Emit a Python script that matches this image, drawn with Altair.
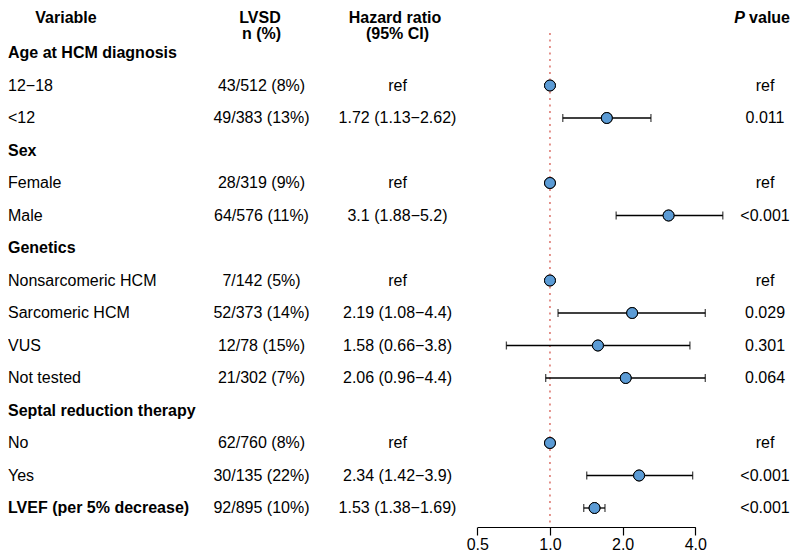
import altair as alt
import pandas as pd

# ---- data ----
labels = ["Age at HCM diagnosis", "12\u221218", "<12", "Sex", "Female", "Male",
          "Genetics", "Nonsarcomeric HCM", "Sarcomeric HCM", "VUS", "Not tested",
          "Septal reduction therapy", "No", "Yes", "LVEF (per 5% decrease)"]
bold = [True, False, False, True, False, False, True, False, False, False, False,
        True, False, False, True]
lvsd = ["", "43/512 (8%)", "49/383 (13%)", "", "28/319 (9%)", "64/576 (11%)",
        "", "7/142 (5%)", "52/373 (14%)", "12/78 (15%)", "21/302 (7%)",
        "", "62/760 (8%)", "30/135 (22%)", "92/895 (10%)"]
hr_text = ["", "ref", "1.72 (1.13\u22122.62)", "", "ref", "3.1 (1.88\u22125.2)",
           "", "ref", "2.19 (1.08\u22124.4)", "1.58 (0.66\u22123.8)", "2.06 (0.96\u22124.4)",
           "", "ref", "2.34 (1.42\u22123.9)", "1.53 (1.38\u22121.69)"]
p_text = ["", "ref", "0.011", "", "ref", "<0.001", "", "ref", "0.029", "0.301",
          "0.064", "", "ref", "<0.001", "<0.001"]
hr = [None, 1.0, 1.72, None, 1.0, 3.1, None, 1.0, 2.19, 1.58, 2.06, None, 1.0, 2.34, 1.53]
lo = [None, None, 1.13, None, None, 1.88, None, None, 1.08, 0.66, 0.96, None, None, 1.42, 1.38]
hi = [None, None, 2.62, None, None, 5.2, None, None, 4.4, 3.8, 4.4, None, None, 3.9, 1.69]
tick_values = [0.5, 1.0, 2.0, 4.0]

df = pd.DataFrame({
    "row": list(range(len(labels))),
    "label": labels, "bold": bold, "lvsd": lvsd, "hrt": hr_text, "p": p_text,
    "hr": hr, "lo": lo, "hi": hi,
})

FONT = "Liberation Sans"
FS = 16
BLUE = "#5B9BD5"
RED = "#DE7A72"
H = 519

yenc = alt.Y("row:Q", scale=alt.Scale(domain=[0, 14], range=[45, 500], nice=False, zero=False),
             axis=None)
xscale = alt.Scale(type="log", domain=[0.5, 4], range=[469.3, 687.3], nice=False)

base = alt.Chart(df)

txt = dict(font=FONT, fontSize=FS, color="black", baseline="middle")

lab_bold = base.transform_filter("datum.bold").mark_text(align="left", fontWeight="bold", **txt).encode(
    x=alt.value(0), y=yenc, text="label:N")
lab_reg = base.transform_filter("!datum.bold").mark_text(align="left", **txt).encode(
    x=alt.value(0), y=yenc, text="label:N")
col_lvsd = base.mark_text(align="center", **txt).encode(x=alt.value(253.5), y=yenc, text="lvsd:N")
col_hr = base.mark_text(align="center", **txt).encode(x=alt.value(389.5), y=yenc, text="hrt:N")
col_p = base.mark_text(align="center", **txt).encode(x=alt.value(757), y=yenc, text="p:N")

hdr = dict(font=FONT, fontSize=FS, color="black", fontWeight="bold", baseline="alphabetic")

def header(t, x, y, align="center", **kw):
    d = dict(hdr)
    d.update(kw)
    return alt.Chart(pd.DataFrame({"t": [t]})).mark_text(align=align, **d).encode(
        x=alt.value(x), y=alt.value(y), text="t:N")

headers = [
    header("Variable", 58, 15),
    header("LVSD", 252, 15),
    header("n (%)", 253.5, 31),
    header("Hazard ratio", 387, 15),
    header("(95% CI)", 389.5, 31),
    header("value", 782, 15, align="right"),
    header("P", 737, 15, align="right", fontStyle="italic"),
]

refline = alt.Chart(pd.DataFrame({"v": [1.0]})).mark_rule(
    color=RED, strokeWidth=1.6, strokeDash=[2, 4.5]).encode(
    x=alt.X("v:Q", scale=xscale), y=alt.value(25), y2=alt.value(H))

whisk = base.transform_filter("isValid(datum.lo)").mark_rule(color="black", strokeWidth=1.3).encode(
    x=alt.X("lo:Q", scale=xscale), x2="hi:Q", y=yenc)

caps = base.transform_filter("isValid(datum.lo)").transform_fold(
    ["lo", "hi"], as_=["end", "val"]).mark_tick(
    orient="vertical", color="black", size=8, thickness=1.3).encode(
    x=alt.X("val:Q", scale=xscale), y=yenc)

points = base.transform_filter("isValid(datum.hr)").mark_circle(
    size=120, color=BLUE, opacity=1, stroke="black", strokeWidth=1).encode(
    x=alt.X("hr:Q", scale=xscale,
            axis=alt.Axis(values=tick_values, format=".1f", title=None, grid=False,
                          domainColor="black", domainWidth=1.2, tickColor="black",
                          tickWidth=1.2, tickSize=8, labelFontSize=FS, labelFont=FONT,
                          labelColor="black", labelPadding=1, labelFlush=False)),
    y=yenc)

chart = alt.layer(
    points, refline, whisk, caps, points,
    lab_bold, lab_reg, col_lvsd, col_hr, col_p, *headers
).properties(
    width=784, height=H,
    autosize=alt.AutoSizeParams(type="none"),
    padding={"left": 0, "top": 0, "right": 0, "bottom": 26},
).configure_view(stroke=None)

chart.save("out.html", embed_options={"renderer": "svg", "actions": False})
